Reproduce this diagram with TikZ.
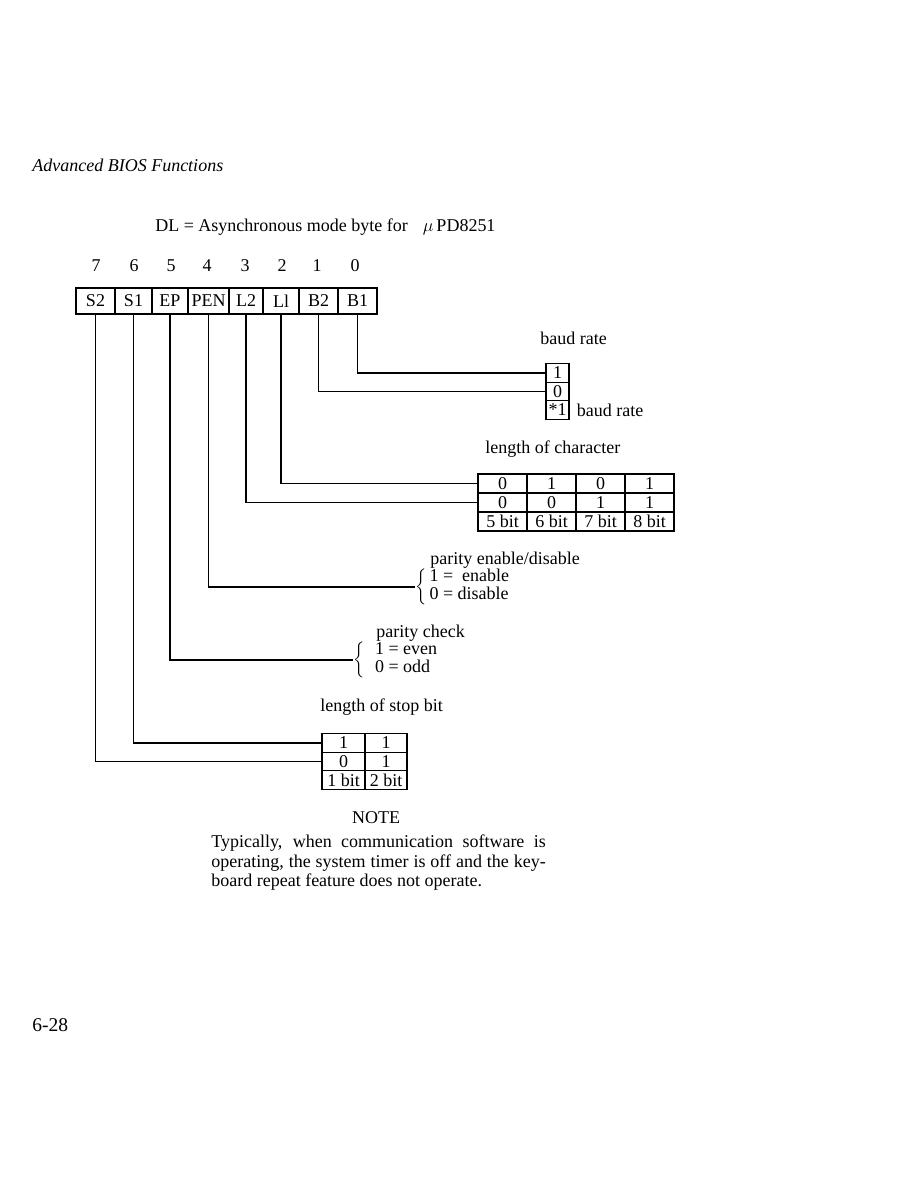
\documentclass[tikz,border=0pt]{standalone}
\usepackage{fontspec}
\setmainfont{Liberation Serif}
\usetikzlibrary{positioning}
\newcommand{\pix}{0.6667pt}
\renewcommand{\arraystretch}{0.8}

\begin{document}
\begin{tikzpicture}[x=0.6667pt,y=-0.6667pt,
    txt/.style={inner sep=0pt,anchor=west,font=\fontsize{12}{14}\selectfont},
    bitnum/.style={inner sep=0pt,font=\fontsize{12}{14}\selectfont},
    regcell/.style={draw,line width=1pt,inner sep=0pt,outer sep=0pt,
      minimum height=26*\pix,font=\fontsize{12}{14}\selectfont},
    tabcell/.style={draw,line width=0.9pt,inner sep=0pt,outer sep=0pt,
      minimum height=18.5*\pix,font=\fontsize{12}{13}\selectfont},
    opts/.style={inner sep=0pt,anchor=west,font=\fontsize{12}{14}\selectfont},
    wire/.style={line width=1pt}]
  \useasboundingbox (0,0) rectangle (918,1188);

  % page header and footer
  \node[txt,font=\fontsize{12}{14}\selectfont\itshape] (hdr) at (32,165) {Advanced BIOS Functions};
  \node[txt,font=\fontsize{13}{15}\selectfont] (pageno) at (32,1025) {6-28};

  \node[txt] (title) at (155,227) {DL = Asynchronous mode byte for\hspace{10pt}$\mu$\,PD8251};

  % register
  \node[regcell,minimum width=39*\pix] (s2) at (95.5,301) {S2};
  \node[regcell,minimum width=37*\pix,right=0pt of s2] (s1) {S1};
  \node[regcell,minimum width=36*\pix,right=0pt of s1] (ep) {EP};
  \node[regcell,minimum width=41*\pix,right=0pt of ep] (pen) {PEN};
  \node[regcell,minimum width=34*\pix,right=0pt of pen] (l2) {L2};
  \node[regcell,minimum width=36*\pix,right=0pt of l2] (l1) {Ll};
  \node[regcell,minimum width=39*\pix,right=0pt of l1] (b2) {B2};
  \node[regcell,minimum width=39*\pix,right=0pt of b2] (b1) {B1};

  \node[bitnum] (n7) at (96,266) {7};
  \node[bitnum] (n6) at (134,266) {6};
  \node[bitnum] (n5) at (171,266) {5};
  \node[bitnum] (n4) at (207,266) {4};
  \node[bitnum] (n3) at (245,266) {3};
  \node[bitnum] (n2) at (282,266) {2};
  \node[bitnum] (n1) at (317,266) {1};
  \node[bitnum] (n0) at (355,266) {0};

  % baud rate
  \node[txt] (baudlbl) at (540,338) {baud rate};
  \node[tabcell,minimum width=23*\pix] (bda) at (557.5,373) {1};
  \node[tabcell,minimum width=23*\pix,below=0pt of bda] (bdb) {0};
  \node[tabcell,minimum width=23*\pix,below=0pt of bdb] (bdc) {*1};
  \node[txt,right=5pt of bdc] (baudlbl2) {baud rate};

  % length of character
  \node[txt] (chlbl) at (485,449) {length of character};
  \node[tabcell,minimum width=49*\pix,minimum height=19*\pix] (ca1) at (502.5,483.5) {0};
  \node[tabcell,minimum width=49*\pix,minimum height=19*\pix,right=0pt of ca1] (ca2) {1};
  \node[tabcell,minimum width=49*\pix,minimum height=19*\pix,right=0pt of ca2] (ca3) {0};
  \node[tabcell,minimum width=49*\pix,minimum height=19*\pix,right=0pt of ca3] (ca4) {1};
  \node[tabcell,minimum width=49*\pix,minimum height=19*\pix,below=0pt of ca1] (cb1) {0};
  \node[tabcell,minimum width=49*\pix,minimum height=19*\pix,right=0pt of cb1] (cb2) {0};
  \node[tabcell,minimum width=49*\pix,minimum height=19*\pix,right=0pt of cb2] (cb3) {1};
  \node[tabcell,minimum width=49*\pix,minimum height=19*\pix,right=0pt of cb3] (cb4) {1};
  \node[tabcell,minimum width=49*\pix,minimum height=19*\pix,below=0pt of cb1] (cc1) {5 bit};
  \node[tabcell,minimum width=49*\pix,minimum height=19*\pix,right=0pt of cc1] (cc2) {6 bit};
  \node[tabcell,minimum width=49*\pix,minimum height=19*\pix,right=0pt of cc2] (cc3) {7 bit};
  \node[tabcell,minimum width=49*\pix,minimum height=19*\pix,right=0pt of cc3] (cc4) {8 bit};

  % parity
  \node[txt] (penlbl) at (430,560) {parity enable/disable};
  \node[opts] (penopt) at (415,587)
    {$\left\{\hspace{2pt}\begin{tabular}{@{}l@{}}1 = \ enable\\0 = disable\end{tabular}\right.$};
  \node[txt] (eplbl) at (376,633) {parity check};
  \node[opts] (epopt) at (353,660)
    {$\left\{\hspace{7pt}\begin{tabular}{@{}l@{}}1 = even\\0 = odd\end{tabular}\right.$};

  % length of stop bit
  \node[txt] (stlbl) at (320,707) {length of stop bit};
  \node[tabcell,minimum width=43*\pix] (sa1) at (343.5,743) {1};
  \node[tabcell,minimum width=42*\pix,right=0pt of sa1] (sa2) {1};
  \node[tabcell,minimum width=43*\pix,below=0pt of sa1] (sb1) {0};
  \node[tabcell,minimum width=42*\pix,right=0pt of sb1] (sb2) {1};
  \node[tabcell,minimum width=43*\pix,below=0pt of sb1] (sc1) {1 bit};
  \node[tabcell,minimum width=42*\pix,right=0pt of sc1] (sc2) {2 bit};

  % wires
  \draw[wire] (b1.south) |- (bda.west);
  \draw[wire] (b2.south) |- (bdb.west);
  \draw[wire] (l1.south) |- (ca1.west);
  \draw[wire] (l2.south) |- (cb1.west);
  \draw[wire] (pen.south) |- (penopt.west);
  \draw[wire] (ep.south) |- (epopt.west);
  \draw[wire] (s1.south) |- (sa1.west);
  \draw[wire] (s2.south) |- (sb1.west);

  % note
  \node[bitnum] (note) at (376,818) {NOTE};
  \node[txt,anchor=north west,text width=223pt,align=justify,
        font=\fontsize{12}{12.7}\selectfont] (para) at (211,835)
    {Typically, when communication software is\linebreak
     operating, the system timer is off and the key-\linebreak
     board repeat feature does not operate.};
\end{tikzpicture}
\end{document}
